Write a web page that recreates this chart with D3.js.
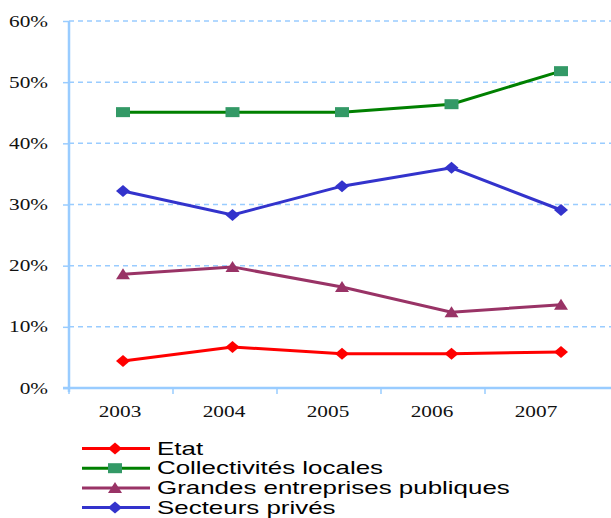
<!DOCTYPE html>
<html>
<head>
<meta charset="utf-8">
<script src="https://cdn.jsdelivr.net/npm/d3@7"></script>
<style>
  body { margin: 0; background: #fff; }
  text.serif { font-family: "Liberation Serif", "Times New Roman", serif; font-size: 16px; }
  text.sans { font-family: "Liberation Sans", Arial, sans-serif; font-size: 18px; }
</style>
</head>
<body>
<div id="chart"></div>
<script>
var years = ["2003", "2004", "2005", "2006", "2007"];
var etat = [4.4, 6.7, 5.6, 5.6, 5.9];
var collectivites = [45.1, 45.1, 45.1, 46.4, 51.8];
var grandes = [18.6, 19.8, 16.5, 12.4, 13.6];
var secteurs = [32.2, 28.3, 33.0, 36.0, 29.1];
var yTicks = [0, 10, 20, 30, 40, 50, 60];

var series = [
  { name: "Etat", values: etat, line: "#ff0000", fill: "#ff0000", shape: "diamond" },
  { name: "Collectivités locales", values: collectivites, line: "#008000", fill: "#339966", shape: "square" },
  { name: "Grandes entreprises publiques", values: grandes, line: "#993366", fill: "#993366", shape: "triangle" },
  { name: "Secteurs privés", values: secteurs, line: "#3333cc", fill: "#3333cc", shape: "diamond" }
];

var W = 611, H = 518;
var pLeft = 69, pRight = 611, pTop = 21, pBottom = 388;
var STRETCH = 1.33;  // the original picture is stretched sideways
var LEG_STRETCH = 1.44;

var svg = d3.select("#chart").append("svg")
    .attr("width", W)
    .attr("height", H);

// axis categories and point positions (the original is not evenly aligned)
var xAxisScale = d3.scaleBand().domain(years).range([pLeft, pLeft + 104 * 5]);
var x = d3.scalePoint().domain(years).range([123, 561]);
var y = d3.scaleLinear().domain([0, 60]).range([pBottom, pTop]);

// grid
svg.selectAll(".grid")
    .data(yTicks.filter(function(d){ return d > 0; }))
  .enter().append("line")
    .attr("x1", pLeft)
    .attr("x2", pRight)
    .attr("y1", function(d){ return y(d); })
    .attr("y2", function(d){ return y(d); })
    .attr("stroke", "#99ccff")
    .attr("stroke-width", 1.5)
    .attr("stroke-dasharray", "5,4");

// y axis
var yAxis = svg.append("g")
    .attr("transform", "translate(" + pLeft + ",0)")
    .call(d3.axisLeft(y).tickValues(yTicks).tickSize(6)
      .tickFormat(function(d){ return d + "%"; }));
yAxis.attr("font-family", null).attr("font-size", null);
yAxis.select(".domain").remove();
yAxis.selectAll(".tick line").attr("stroke", "#99ccff").attr("stroke-width", 1.5);
yAxis.selectAll(".tick text")
    .attr("class", "serif")
    .attr("x", 0)
    .attr("transform", "translate(-21,0) scale(" + STRETCH + ",1)")
    .attr("fill", "#111");
svg.append("line")
    .attr("x1", pLeft).attr("x2", pLeft)
    .attr("y1", pTop).attr("y2", pBottom + 4)
    .attr("stroke", "#99ccff").attr("stroke-width", 2.5);

// x axis
svg.append("line")
    .attr("x1", pLeft - 6).attr("x2", pRight)
    .attr("y1", pBottom).attr("y2", pBottom)
    .attr("stroke", "#99ccff").attr("stroke-width", 2.5);
svg.selectAll(".xtick")
    .data(years)
  .enter().append("line")
    .attr("x1", function(d){ return xAxisScale(d); })
    .attr("x2", function(d){ return xAxisScale(d); })
    .attr("y1", pBottom)
    .attr("y2", pBottom + 6)
    .attr("stroke", "#99ccff")
    .attr("stroke-width", 1.5);
svg.selectAll(".xlabel")
    .data(years)
  .enter().append("text")
    .attr("class", "serif")
    .attr("transform", function(d){
      return "translate(" + (xAxisScale(d) + xAxisScale.bandwidth() / 2 - 1) + ",417) scale(" + STRETCH + ",1)";
    })
    .attr("text-anchor", "middle")
    .attr("fill", "#111")
    .text(function(d){ return d; });

function marker(shape){
  if (shape === "square") return "M-7,-5H7V5H-7Z";
  if (shape === "triangle") return "M0,-6L7,5H-7Z";
  return "M0,-6L7,0L0,6L-7,0Z";
}

var line = d3.line()
    .x(function(d, i){ return x(years[i]); })
    .y(function(d){ return y(d); });

series.forEach(function(s, k){
  svg.append("path")
      .datum(s.values)
      .attr("d", line)
      .attr("fill", "none")
      .attr("stroke", s.line)
      .attr("stroke-width", 3);
  svg.selectAll(".m" + k)
      .data(s.values)
    .enter().append("path")
      .attr("class", "m" + k)
      .attr("transform", function(d, i){ return "translate(" + x(years[i]) + "," + y(d) + ")"; })
      .attr("d", marker(s.shape))
      .attr("fill", s.fill);
});

// legend
var legend = svg.selectAll(".legend")
    .data(series)
  .enter().append("g")
    .attr("transform", function(d, i){ return "translate(82," + (448.5 + i * 19.7) + ")"; });
legend.append("line")
    .attr("x1", 0).attr("x2", 68)
    .attr("stroke", function(d){ return d.line; })
    .attr("stroke-width", 3);
legend.append("path")
    .attr("transform", "translate(33,0)")
    .attr("d", function(d){ return marker(d.shape); })
    .attr("fill", function(d){ return d.fill; });
legend.append("text")
    .attr("class", "sans")
    .attr("transform", "translate(75,0) scale(" + LEG_STRETCH + ",1)")
    .attr("dy", "0.34em")
    .attr("fill", "#000")
    .text(function(d){ return d.name; });
</script>
</body>
</html>
